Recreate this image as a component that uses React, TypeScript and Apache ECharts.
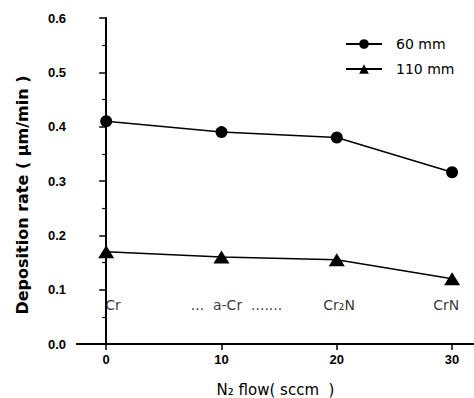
import React, { useEffect, useRef } from "react";
import * as echarts from "echarts";

const flow = [0, 10, 20, 30];
const rate60 = [0.41, 0.39, 0.38, 0.316];
const rate110 = [0.17, 0.16, 0.155, 0.12];
const xTicks = [0, 10, 20, 30];
const phaseLabels = ["Cr", "...  a-Cr  .......", "Cr₂N", "CrN"];
const phaseX = [0.6, 11.3, 20.2, 29.5];
const phaseY = 0.072;

export default function App() {
  const ref = useRef<HTMLDivElement>(null);
  useEffect(() => {
    if (!ref.current) return;
    const chart = echarts.init(ref.current, null, { renderer: "svg" });
    const font = "Liberation Sans";
    const wide = "DejaVu Sans";
    chart.setOption({
      animation: false,
      backgroundColor: "#fff",
      textStyle: { fontFamily: font, color: "#000" },
      grid: { left: 77, top: 18, right: 0, bottom: 54, outerBoundsMode: "none", containLabel: false },
      legend: {
        orient: "vertical",
        left: 340,
        top: 32,
        itemWidth: 36,
        itemHeight: 12,
        itemGap: 11,
        textStyle: { fontSize: 14, color: "#000", fontFamily: wide, padding: [0, 0, 0, 9] },
        data: ["60 mm", "110 mm"],
      },
      xAxis: [
        {
          type: "value",
          min: -2.53,
          max: 31.9,
          name: "N₂ flow( sccm  )",
          nameLocation: "middle",
          nameGap: 38,
          nameTextStyle: { fontSize: 15, color: "#000", fontFamily: wide },
          axisLine: { show: true, onZero: false, lineStyle: { color: "#000", width: 2 } },
          axisTick: { show: true, customValues: xTicks, length: 6, lineStyle: { color: "#000", width: 1.5 } },
          axisLabel: { customValues: xTicks, fontSize: 13, fontWeight: "bold", color: "#000", margin: 9, fontFamily: font },
          splitLine: { show: false },
        },
        {
          type: "value",
          position: "top",
          min: -2.53,
          max: 31.9,
          axisLine: { show: true, lineStyle: { color: "#000", width: 2 } },
          axisTick: { show: false },
          axisLabel: { show: false },
          splitLine: { show: false },
        },
      ],
      yAxis: {
        type: "value",
        min: 0,
        max: 0.6,
        interval: 0.1,
        axisLine: { show: true, lineStyle: { color: "#000", width: 2 } },
        axisTick: { show: true, length: 7, lineStyle: { color: "#000", width: 1.5 } },
        minorTick: { show: true, splitNumber: 2, length: 4, lineStyle: { color: "#000", width: 1.2 } },
        axisLabel: {
          fontSize: 13,
          fontWeight: "bold",
          color: "#000",
          margin: 11,
          fontFamily: font,
          formatter: (v: number) => v.toFixed(1),
        },
        splitLine: { show: false },
      },
      graphic: [
        {
          type: "text",
          x: 22,
          y: 195,
          rotation: Math.PI / 2,
          style: {
            text: "Deposition rate ( μm/min )",
            font: "bold 16px 'DejaVu Sans'",
            fill: "#000",
            textAlign: "center",
            textVerticalAlign: "middle",
          },
        },
      ],
      series: [
        {
          name: "60 mm",
          type: "line",
          data: flow.map((x, i) => [x, rate60[i]]),
          symbol: "circle",
          symbolSize: 12,
          lineStyle: { color: "#000", width: 1.5 },
          itemStyle: { color: "#000" },
        },
        {
          name: "110 mm",
          type: "line",
          data: flow.map((x, i) => [x, rate110[i]]),
          symbol: "triangle",
          symbolSize: [16, 13],
          lineStyle: { color: "#000", width: 1.5 },
          itemStyle: { color: "#000" },
        },
        {
          name: "phases",
          type: "scatter",
          data: phaseX.map((x, i) => [x, phaseY, phaseLabels[i]]),
          symbolSize: 0,
          silent: true,
          itemStyle: { color: "#000" },
          label: {
            show: true,
            position: "inside",
            formatter: (p: any) => p.data[2],
            fontSize: 14,
            color: "#000",
            textBorderWidth: 0,
            fontFamily: wide,
          },
        },
      ],
    });
    return () => chart.dispose();
  }, []);
  return (
    <div
      ref={ref}
      style={{ position: "fixed", left: 0, top: 0, width: 474, height: 398 }}
    />
  );
}
